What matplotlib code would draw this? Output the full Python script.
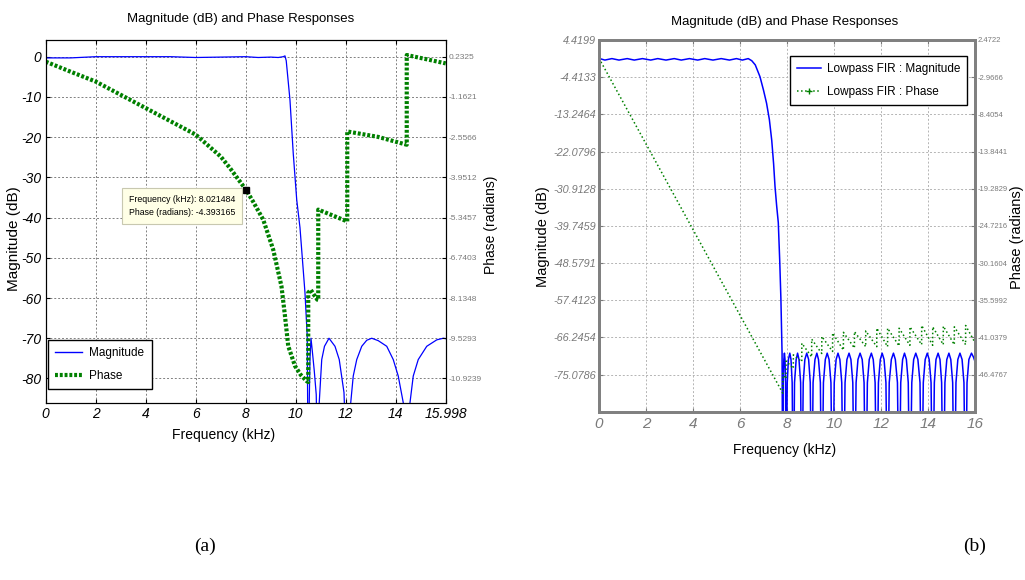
import matplotlib
matplotlib.use("Agg")
import matplotlib.pyplot as plt
from matplotlib.lines import Line2D

plt.rcParams["font.family"] = ["Liberation Sans", "DejaVu Sans"]

# ---------------- panel (a) data ----------------
mag_a_f = [0, 1, 2, 3, 4, 5, 6, 7, 8, 8.5, 9, 9.3, 9.5, 9.57, 9.62,
           9.77, 9.9, 10.04, 10.17, 10.37, 10.46,
           10.5, 10.54, 10.57, 10.61, 10.66, 10.74, 10.82,
           10.9, 10.94, 11.04, 11.15, 11.33, 11.57, 11.74, 11.93,
           12.08, 12.2, 12.3, 12.44, 12.64, 12.84, 13.04, 13.3, 13.64, 13.9, 14.1, 14.3,
           14.44, 14.57, 14.7, 14.9, 15.24, 15.64, 15.9, 15.998]
mag_a_db = [-0.3, -0.3, 0, 0, 0, 0, -0.2, -0.1, 0, -0.2, -0.1, -0.2, 0, 0.2, -1,
            -10.8, -24, -35.6, -42.5, -58.7, -69.5,
            -110, -86, -75, -70, -73, -78, -84,
            -110, -86, -75.3, -72, -70, -72, -75.3, -83.5,
            -110, -86, -79.4, -75.3, -72, -70.5, -70, -70.6, -72, -75.3, -79.4, -86,
            -110, -86, -79.4, -75.3, -72, -70.4, -70, -70.1]

ph_a_f = [0, 1, 2, 3, 4, 5, 6, 7, 7.37, 8.02, 8.3, 8.7, 9.1, 9.43, 9.57, 9.7, 9.97, 10.2, 10.43,
          10.5, 10.5, 10.6, 10.75, 10.86, 10.9, 10.9,
          11.5, 12.06, 12.06, 13.3, 14.44, 14.44, 15.2, 15.998]
ph_a_rad = [0.06, -0.29, -0.63, -1.09, -1.55, -2.01, -2.47, -3.23, -3.63, -4.393, -4.8, -5.42,
            -6.46, -7.73, -8.76, -9.80, -10.49, -10.80, -11.01,
            -11.05, -7.95, -7.85, -8.05, -8.19, -8.20, -5.07,
            -5.28, -5.48, -2.36, -2.55, -2.82, 0.29, 0.15, 0.0]

xt_a = [0, 2, 4, 6, 8, 10, 12, 14, 15.998]
yt_a = [0, -10, -20, -30, -40, -50, -60, -70, -80]
yt_a_phase = [0.2325, -1.1621, -2.5566, -3.9512, -5.3457, -6.7403, -8.1348, -9.5293, -10.9239]
tip_f = 8.021484
tip_phase = -4.393165

# ---------------- panel (b) data ----------------
mag_b_f = [0, 0.25, 0.55, 0.85, 1.2, 1.5, 1.85, 2.2, 2.5, 2.85, 3.2, 3.5, 3.85, 4.2, 4.5,
           4.85, 5.2, 5.55, 5.85, 6.1, 6.35, 6.5, 6.65, 6.85, 7.0, 7.13, 7.25, 7.35, 7.43,
           7.49, 7.56, 7.63, 7.69, 7.74, 7.79,
           7.82, 7.84, 7.865, 7.89, 7.915, 7.94,
           7.96, 8.01, 8.06, 8.12, 8.17, 8.22,
           8.27, 8.32, 8.39, 8.45, 8.51, 8.58,
           8.63, 8.69, 8.76, 8.84, 8.92, 8.99,
           9.05, 9.11, 9.19, 9.27, 9.34, 9.42,
           9.48, 9.55, 9.63, 9.71, 9.79, 9.87,
           9.94, 10.01, 10.09, 10.17, 10.25, 10.33,
           10.40, 10.47, 10.55, 10.64, 10.72, 10.80,
           10.87, 10.94, 11.02, 11.11, 11.20, 11.28,
           11.35, 11.42, 11.50, 11.59, 11.67, 11.75,
           11.82, 11.89, 11.97, 12.05, 12.13, 12.21,
           12.28, 12.35, 12.44, 12.53, 12.61, 12.70,
           12.77, 12.84, 12.92, 13.00, 13.08, 13.16,
           13.23, 13.31, 13.39, 13.48, 13.57, 13.66,
           13.73, 13.80, 13.88, 13.97, 14.05, 14.13,
           14.20, 14.27, 14.34, 14.43, 14.51, 14.58,
           14.65, 14.72, 14.80, 14.89, 14.97, 15.05,
           15.12, 15.19, 15.27, 15.36, 15.45, 15.53,
           15.60, 15.66, 15.74, 15.85, 15.94, 16.0]
mag_b_db = [0.05, -0.35, 0.0, -0.35, 0.0, -0.35, 0.0, -0.35, 0.0, -0.35, 0.0, -0.35, 0.0, -0.35, 0.0,
            -0.35, 0.0, -0.35, 0.0, -0.35, 0.0, -0.5, -1.5, -4.3, -7.5, -10.6, -14.5, -19.4, -25.0,
            -30.4, -35.0, -39.0, -48.0, -57.0, -70.0,
            -110, -77, -71.5, -70, -71.5, -77,
            -110, -77, -71.5, -70, -71.5, -77,
            -110, -77, -71.5, -70, -71.5, -77,
            -110, -77, -71.5, -70, -71.5, -77,
            -110, -77, -71.5, -70, -71.5, -77,
            -110, -77, -71.5, -70, -71.5, -77,
            -110, -77, -71.5, -70, -71.5, -77,
            -110, -77, -71.5, -70, -71.5, -77,
            -110, -77, -71.5, -70, -71.5, -77,
            -110, -77, -71.5, -70, -71.5, -77,
            -110, -77, -71.5, -70, -71.5, -77,
            -110, -77, -71.5, -70, -71.5, -77,
            -110, -77, -71.5, -70, -71.5, -77,
            -110, -77, -71.5, -70, -71.5, -77,
            -110, -77, -71.5, -70, -71.5, -77,
            -110, -77, -71.5, -70, -71.5, -77,
            -110, -77, -71.5, -70, -71.5, -77,
            -110, -77, -71.5, -70, -71.5, -77,
            -110, -77, -71.5, -70, -71, -72]

ph_b_f = [0, 7.82, 7.82, 7.96, 7.96, 8.27, 8.27, 8.63, 8.63, 9.05, 9.05, 9.48, 9.48,
          9.94, 9.94, 10.40, 10.40, 10.87, 10.87, 11.35, 11.35, 11.82, 11.82, 12.28, 12.28,
          12.77, 12.77, 13.23, 13.23, 13.73, 13.73, 14.20, 14.20, 14.65, 14.65, 15.12, 15.12,
          15.60, 15.60, 16.0]
ph_b_rad = [-0.2, -49.2, -46.3, -47.1, -44.5, -45.6, -43.6, -44.6, -41.9, -43.9, -41.3,
            -43.4, -40.9, -43.1, -40.4, -42.9, -40.3, -42.6, -40.2, -42.4, -40.1, -42.4,
            -39.7, -42.4, -39.7, -42.3, -39.7, -42.2, -39.5, -42.1, -39.3, -42.2, -39.5,
            -42.1, -39.4, -42.1, -39.5, -42.1, -39.3, -41.8]

xt_b = [0, 2, 4, 6, 8, 10, 12, 14, 16]
yt_b = [4.4199, -4.4133, -13.2464, -22.0796, -30.9128, -39.7459, -48.5791, -57.4123, -66.2454, -75.0786]
yt_b_phase = [2.4722, -2.9666, -8.4054, -13.8441, -19.2829, -24.7216, -30.1604, -35.5992, -41.0379, -46.4767]

BLUE = "#0000ff"
GREEN = "#008000"
GRAY = "#7a7a7a"

fig = plt.figure(figsize=(10.25, 5.8), dpi=100)


def fx(x):
    return x / 1025


def fy(y):
    return 1 - y / 580


# ================= panel (a) =================
axA = fig.add_axes([fx(45.7), fy(403), fx(400), 363 / 580])
axA.plot(mag_a_f, mag_a_db, color=BLUE, lw=0.9)
axA.set_xlim(0, 15.998)
axA.set_ylim(-86.1, 4.15)
axA.set_xticks(xt_a)
axA.set_xticklabels([f"{v:g}" for v in xt_a], fontsize=10, style="italic")
axA.set_yticks(yt_a)
axA.set_yticklabels([f"{v:g}" for v in yt_a], fontsize=10, style="italic")
axA.tick_params(direction="in", top=True, length=3, pad=3)
axA.grid(True, color="#808080", ls=(0, (2, 2)), lw=0.7)

axA2 = axA.twinx()
axA2.plot(ph_a_f, ph_a_rad, color=GREEN, lw=3, ls=(0, (0.7, 0.45)))
axA2.set_ylim(-11.775, 0.811)
axA2.set_yticks(yt_a_phase)
axA2.set_yticklabels([f"{v:.4f}" for v in yt_a_phase], fontsize=6, color=GRAY)
axA2.tick_params(direction="in", length=3, pad=2)
axA2.plot([tip_f], [tip_phase], marker="s", color="black", ms=5, ls="none")
axA2.text((129 - 45.7) / 400, (403 - 195) / 363,
          f"Frequency (kHz): {tip_f:.6f}\nPhase (radians): {tip_phase:.6f}",
          transform=axA2.transAxes, fontsize=6.3, ha="left", va="top", linespacing=1.6,
          bbox=dict(boxstyle="square,pad=0.8", fc="#ffffe6", ec="#c8c8b0", lw=0.8))

hA = [Line2D([], [], color=BLUE, lw=1), Line2D([], [], color=GREEN, lw=3, ls=(0, (0.7, 0.45)))]
legA = axA2.legend(hA, ["Magnitude", "Phase"], loc="lower left",
                   bbox_to_anchor=(0.006, 0.039), fontsize=8.5, fancybox=False,
                   edgecolor="black", framealpha=1, handlelength=2.3, borderpad=0.6,
                   labelspacing=0.9, borderaxespad=0, handletextpad=0.6)
legA.get_frame().set_linewidth(1)

fig.text(fx(241), fy(19), "Magnitude (dB) and Phase Responses", fontsize=9.5, ha="center", va="center")
fig.text(fx(224), fy(435), "Frequency (kHz)", fontsize=10, ha="center", va="center")
fig.text(fx(14), fy(239), "Magnitude (dB)", fontsize=11,
         rotation=90, ha="center", va="center")
fig.text(fx(491), fy(225), "Phase (radians)", fontsize=10,
         rotation=90, ha="center", va="center")

# ================= panel (b) =================
axB = fig.add_axes([fx(599), fy(411.7), fx(376), 371.7 / 580])
axB.plot(mag_b_f, mag_b_db, color=BLUE, lw=1.1)
axB.set_xlim(0, 16)
axB.set_ylim(-83.9118, 4.4199)
axB.set_xticks(xt_b)
axB.set_xticklabels([f"{v:g}" for v in xt_b], fontsize=11, style="italic", color=GRAY)
axB.set_yticks(yt_b)
axB.set_yticklabels([f"{v:.4f}" for v in yt_b], fontsize=7.8, style="italic", color=GRAY)
axB.tick_params(axis="x", direction="in", top=True, length=3, pad=4, color=GRAY)
axB.tick_params(axis="y", direction="in", length=3, pad=2, color=GRAY)
axB.grid(True, color="#b4b4b4", ls=(0, (2, 2)), lw=0.7)

axB2 = axB.twinx()
axB2.plot(ph_b_f, ph_b_rad, color=GREEN, lw=1.1, ls=":")
axB2.set_ylim(-51.9154, 2.4722)
axB2.set_yticks(yt_b_phase)
axB2.set_yticklabels([f"{v:.4f}" for v in yt_b_phase], fontsize=5.5, color=GRAY)
axB2.tick_params(direction="in", length=3, pad=2, color=GRAY)
for a in (axB, axB2):
    for s in a.spines.values():
        s.set_color("#808080")
        s.set_linewidth(2)

hB = [Line2D([], [], color=BLUE, lw=1.1),
      Line2D([], [], color=GREEN, lw=1.1, ls=":", marker="+", ms=4)]
legB = axB2.legend(hB, ["Lowpass FIR : Magnitude", "Lowpass FIR : Phase"], loc="upper right",
                   bbox_to_anchor=(0.979, 0.957), fontsize=8.5, fancybox=False,
                   edgecolor="black", framealpha=1, handlelength=2.0, borderpad=0.6,
                   labelspacing=0.9, borderaxespad=0, handletextpad=0.5)
legB.get_frame().set_linewidth(1)

fig.text(fx(785), fy(22), "Magnitude (dB) and Phase Responses", fontsize=9.5, ha="center", va="center")
fig.text(fx(785), fy(450), "Frequency (kHz)", fontsize=10, ha="center", va="center")
fig.text(fx(543), fy(237), "Magnitude (dB)", fontsize=10.5,
         rotation=90, ha="center", va="center")
fig.text(fx(1017), fy(237), "Phase (radians)", fontsize=10.5,
         rotation=90, ha="center", va="center")

# captions
fig.text(fx(205), fy(546), "(a)", family="Liberation Serif", fontsize=14, ha="center", va="center")
fig.text(fx(975), fy(546), "(b)", family="Liberation Serif", fontsize=14, ha="center", va="center")

fig.savefig("out.png", dpi=100)
